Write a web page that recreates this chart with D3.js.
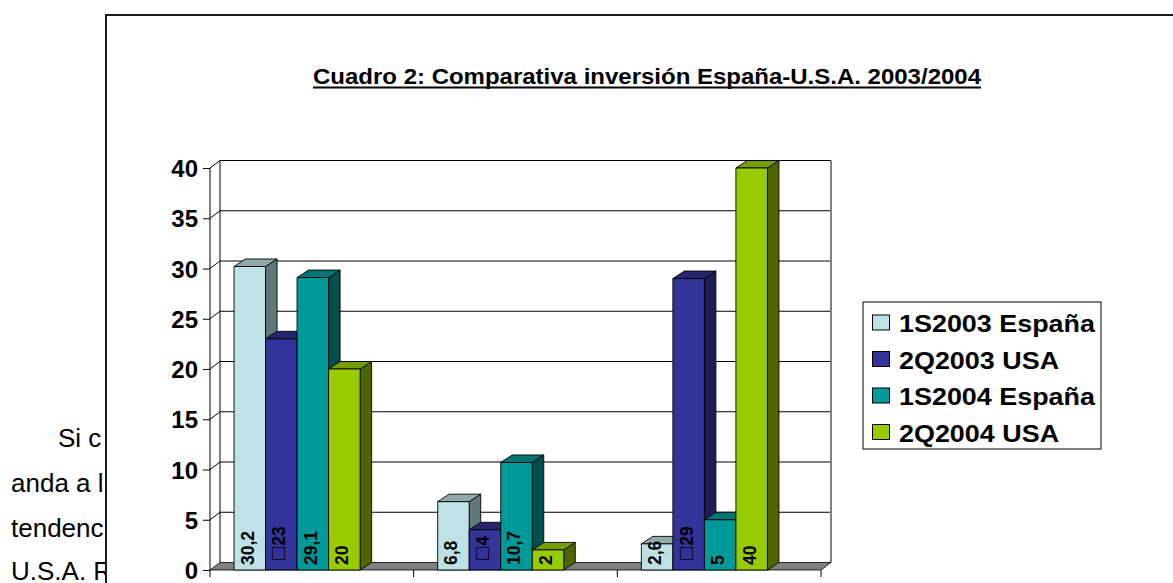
<!DOCTYPE html>
<html><head><meta charset="utf-8">
<script src="https://cdn.jsdelivr.net/npm/d3@7"></script>
<style>body{margin:0;background:#fff;overflow:hidden;} svg{display:block;font-family:Arial,"Liberation Sans",sans-serif;}</style>
</head><body><svg id="c" width="1173" height="583"></svg>
<script>
// ---- data ----
const categories = ["Grupo 1", "Grupo 2", "Grupo 3"];
const seriesNames = ["1S2003 España", "2Q2003 USA", "1S2004 España", "2Q2004 USA"];
const s1S2003Espana = [30.2, 6.8, 2.6];
const s2Q2003USA = [23, 4, 29];
const s1S2004Espana = [29.1, 10.7, 5];
const s2Q2004USA = [20, 2, 40];
const labelPrefix = ["", "\u25A1", "", ""];
const yTicks = [0, 5, 10, 15, 20, 25, 30, 35, 40];
const titleText = "Cuadro 2: Comparativa inversión España-U.S.A. 2003/2004";
const bodyLines = ["Si c", "anda a l", "tendenc", "U.S.A. R"];

// ---- styles ----
const frontCol = ["#BDE1E4", "#333399", "#009999", "#99CC00"];
const sideCol  = ["#62797C", "#1D1D52", "#004F4F", "#4F6600"];
const topCol   = ["#93AAAD", "#26266F", "#007575", "#779E00"];

const seriesValues = [s1S2003Espana, s2Q2003USA, s1S2004Espana, s2Q2004USA];
const svg = d3.select("#c");

// background document text (behind chart)
const bodyX = [58, 11, 11, 11], bodyY = [447, 492, 537, 580];
svg.selectAll("text.body").data(bodyLines).join("text")
  .attr("class", "body").attr("x", (d, i) => bodyX[i]).attr("y", (d, i) => bodyY[i])
  .attr("font-size", 26).attr("fill", "#000").text(d => d);

// chart area
svg.append("rect").attr("x", 106).attr("y", 15).attr("width", 1200).attr("height", 800)
  .attr("fill", "#fff").attr("stroke", "#1a1a1a").attr("stroke-width", 2);

// title
const title = svg.append("text").attr("x", 313).attr("y", 84)
  .attr("font-size", 22).attr("font-weight", "bold").attr("fill", "#000").text(titleText);
title.attr("textLength", 668).attr("lengthAdjust", "spacingAndGlyphs");
svg.append("line").attr("x1", 313).attr("x2", 981).attr("y1", 87.5).attr("y2", 87.5)
  .attr("stroke", "#000").attr("stroke-width", 2);

// scales
const y = d3.scaleLinear().domain([0, 40]).range([570, 168]);
const x0 = d3.scaleBand().domain(categories).range([210, 821]).padding(0);
const bw = x0.bandwidth();
const x1 = d3.scaleBand().domain(seriesNames).range([bw * 0.118, bw * 0.737]).padding(0);

const dxB = 11.5, dyB = -7.5, dxW = 10, dyW = -7.5;
const xL = x0.range()[0], xR = x0.range()[1];
const yb = y(0), yt = y(40);

// back wall
svg.append("rect").attr("x", xL + dxW).attr("y", yt + dyW).attr("width", xR - xL).attr("height", yb - yt).attr("fill", "#fff");
const grid = svg.append("g").attr("stroke", "#000").attr("stroke-width", 1).attr("fill", "none");
yTicks.filter(t => t > 0).forEach(t => {
  grid.append("polyline").attr("points", [[xL, y(t)], [xL + dxW, y(t) + dyW], [xR + dxW, y(t) + dyW]].map(p => p.join(",")).join(" "));
});
grid.append("line").attr("x1", xL + dxW).attr("x2", xL + dxW).attr("y1", yt + dyW).attr("y2", yb + dyW);
grid.append("line").attr("x1", xR + dxW).attr("x2", xR + dxW).attr("y1", yt + dyW).attr("y2", yb + dyW)
  .attr("stroke", "#808080").attr("stroke-width", 2);
grid.append("line").attr("x1", xL).attr("x2", xL).attr("y1", yt).attr("y2", yb);

// floor
svg.append("polygon")
  .attr("points", [[xL, yb], [xR, yb], [xR + dxW, yb + dyW], [xL + dxW, yb + dyW]].map(p => p.join(",")).join(" "))
  .attr("fill", "#808080").attr("stroke", "#000").attr("stroke-width", 0.8);

// category tick marks
const catEdges = categories.map(c => x0(c)).concat([xR]);
svg.selectAll("line.ct").data(catEdges).join("line").attr("class", "ct")
  .attr("x1", d => d).attr("x2", d => d).attr("y1", yb).attr("y2", yb + 7)
  .attr("stroke", "#000").attr("stroke-width", 1);

// y axis
const yAxis = d3.axisLeft(y).tickValues(yTicks).tickSize(7).tickPadding(5);
const gA = svg.append("g").attr("transform", `translate(${xL},0)`).call(yAxis);
gA.select(".domain").remove();
gA.attr("font-family", "Arial, 'Liberation Sans', sans-serif").attr("font-size", 24);
gA.selectAll("text").attr("font-weight", "bold").attr("fill", "#000").attr("dy", "0.36em");
gA.selectAll("line").attr("stroke", "#000");

// bars
const bars = svg.append("g");
categories.forEach((c, ci) => {
  seriesNames.forEach((s, si) => {
    const v = seriesValues[si][ci];
    const xa = x0(c) + x1(s), xb = xa + x1.bandwidth();
    const ya = y(v);
    const g = bars.append("g").attr("stroke", "#000").attr("stroke-width", 0.9).attr("stroke-linejoin", "round");
    g.append("polygon").attr("fill", sideCol[si])
      .attr("points", [[xb, ya], [xb + dxB, ya + dyB], [xb + dxB, yb + dyB], [xb, yb]].map(p => p.join(",")).join(" "));
    g.append("polygon").attr("fill", topCol[si])
      .attr("points", [[xa, ya], [xb, ya], [xb + dxB, ya + dyB], [xa + dxB, ya + dyB]].map(p => p.join(",")).join(" "));
    g.append("rect").attr("fill", frontCol[si]).attr("x", xa).attr("y", ya).attr("width", xb - xa).attr("height", yb - ya);
  });
});

// value labels
const labels = svg.append("g");
categories.forEach((c, ci) => {
  seriesNames.forEach((s, si) => {
    const v = seriesValues[si][ci];
    const cx = x0(c) + x1(s) + x1.bandwidth() / 2;
    const t = labels.append("text")
      .attr("transform", `translate(${cx + 4},${yb - 5}) rotate(-90)`)
      .attr("font-size", 17.5).attr("font-weight", "bold").attr("fill", "#000");
    if (labelPrefix[si]) {
      t.append("tspan").attr("font-size", 22).attr("font-weight", "normal").attr("dx", 5).text(labelPrefix[si]);
      t.append("tspan").attr("dx", 1).text(String(v).replace(".", ","));
    } else {
      t.text(String(v).replace(".", ","));
    }
  });
});

// legend
const lg = svg.append("g");
lg.append("rect").attr("x", 863).attr("y", 302).attr("width", 238).attr("height", 147)
  .attr("fill", "#fff").attr("stroke", "#000").attr("stroke-width", 1);
const legY = [332, 368.5, 405, 441.5];
seriesNames.forEach((s, si) => {
  lg.append("rect").attr("x", 872.5).attr("y", legY[si] - 17).attr("width", 17).attr("height", 15)
    .attr("fill", frontCol[si]).attr("stroke", "#000").attr("stroke-width", 1);
  lg.append("text").attr("class", "lt").attr("x", 899).attr("y", legY[si])
    .attr("font-size", 23).attr("font-weight", "bold").attr("fill", "#000").text(s);
});
const lts = lg.selectAll("text.lt");
const ref = lts.nodes()[0].getComputedTextLength();
const k = 196 / ref;
lts.each(function () {
  const w = this.getComputedTextLength();
  d3.select(this).attr("textLength", w * k).attr("lengthAdjust", "spacingAndGlyphs");
});
</script></body></html>
